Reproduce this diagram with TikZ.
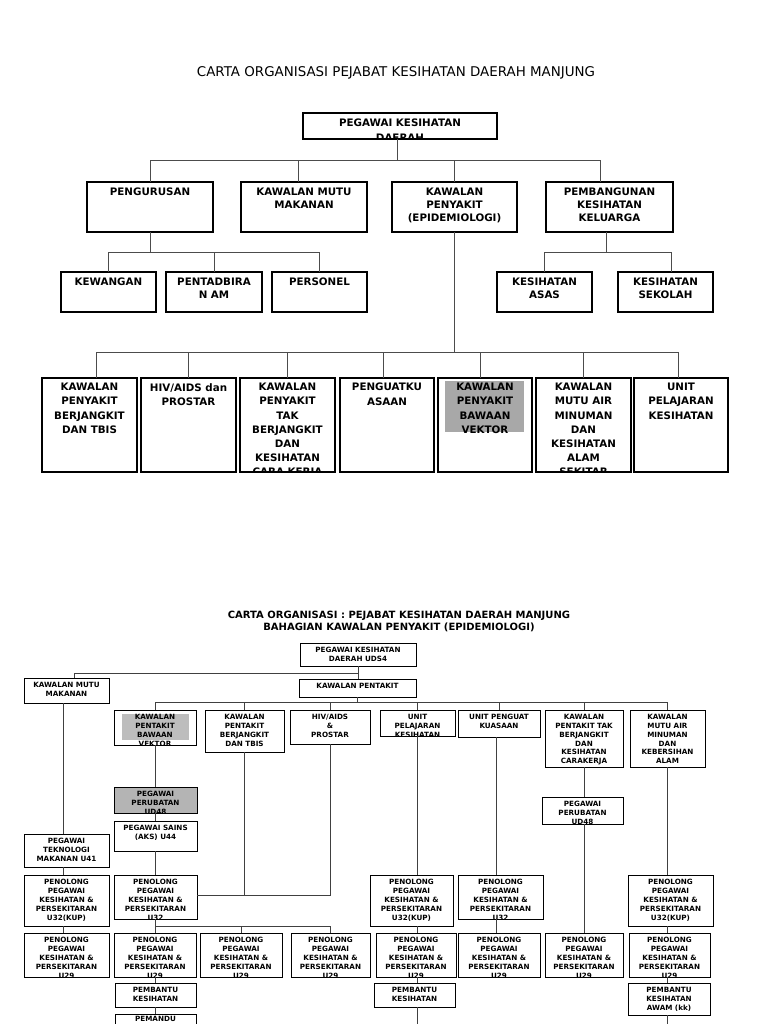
\documentclass[tikz,border=0pt]{standalone}
\usepackage{fontspec}
\setmainfont{DejaVu Sans}
\definecolor{grayA}{HTML}{A8A8A8}
\definecolor{grayB}{HTML}{BDBDBD}
\definecolor{grayC}{HTML}{B4B4B4}
\newcommand\OB[8]{%
  \node[#6,minimum width={#4-#2},minimum height={#5-#3}] (#1) at ({(#2+#4)/2},{(#3+#5)/2}) {};
  \begin{scope}
    \clip ([shift={(0.6pt,0.6pt)}]#1.south west) rectangle ([shift={(-0.6pt,-0.6pt)}]#1.north east);
    \node[#7] (#1-t) at (#1.north) {#8};
  \end{scope}
}
\begin{document}
\begin{tikzpicture}[x=1pt,y=-1pt,
  topbox/.style={draw=black, line width=1.2pt, inner sep=0pt, outer sep=0pt},
  toptext/.style={anchor=north, yshift=-6pt, align=center, inner sep=0pt, font=\bfseries\fontsize{10.3}{12.8}\selectfont},
  toptextA/.style={toptext, font=\bfseries\fontsize{10.3}{15}\selectfont},
  toptextB/.style={toptext, yshift=1pt, font=\bfseries\fontsize{10.3}{14.2}\selectfont},
  botbox/.style={draw=black, line width=0.9pt, inner sep=0pt, outer sep=0pt},
  bottext/.style={anchor=north, yshift=-4.3pt, align=center, inner sep=0pt, font=\bfseries\fontsize{7.2}{8.8}\selectfont},
  topline/.style={draw=black!70, line width=1pt},
  botline/.style={draw=black!75, line width=0.9pt},
]
\fill[white] (0,0) rectangle (768,1024);
\useasboundingbox (0,0) rectangle (768,1024);

% ================= TOP CHART =================
\node[font=\fontsize{13.4}{16}\selectfont, inner sep=0pt] (title1) at (396,73) {CARTA ORGANISASI PEJABAT KESIHATAN DAERAH MANJUNG};

\OB{pkd}{303}{113}{497}{139}{topbox}{toptextA}{PEGAWAI KESIHATAN\\DAERAH}

\OB{peng}{87}{182}{213}{232}{topbox}{toptext}{PENGURUSAN}
\OB{kmm}{241}{182}{367}{232}{topbox}{toptext}{KAWALAN MUTU\\MAKANAN}
\OB{kpe}{392}{182}{517}{232}{topbox}{toptext}{KAWALAN\\PENYAKIT\\(EPIDEMIOLOGI)}
\OB{pkk}{546}{182}{673}{232}{topbox}{toptext}{PEMBANGUNAN\\KESIHATAN\\KELUARGA}

\OB{kew}{61}{272}{156}{312}{topbox}{toptext}{KEWANGAN}
\OB{pent}{166}{272}{262}{312}{topbox}{toptext}{PENTADBIRA\\N AM}
\OB{pers}{272}{272}{367}{312}{topbox}{toptext}{PERSONEL}
\OB{ksa}{497}{272}{592}{312}{topbox}{toptext}{KESIHATAN\\ASAS}
\OB{kss}{618}{272}{713}{312}{topbox}{toptext}{KESIHATAN\\SEKOLAH}

\fill[grayA] (445,381) rectangle (524,432);
\OB{r4a}{42}{378}{137}{472}{topbox}{toptextB}{KAWALAN\\PENYAKIT\\BERJANGKIT\\DAN TBIS}
\OB{r4b}{141}{378}{236}{472}{topbox}{toptextB}{HIV/AIDS dan\\PROSTAR}
\OB{r4c}{240}{378}{335}{472}{topbox}{toptextB}{KAWALAN\\PENYAKIT\\TAK\\BERJANGKIT\\DAN\\KESIHATAN\\CARA KERJA}
\OB{r4d}{340}{378}{434}{472}{topbox}{toptextB}{PENGUATKU\\ASAAN}
\OB{r4e}{438}{378}{532}{472}{topbox}{toptextB}{KAWALAN\\PENYAKIT\\BAWAAN\\VEKTOR}
\OB{r4f}{536}{378}{631}{472}{topbox}{toptextB}{KAWALAN\\MUTU AIR\\MINUMAN\\DAN\\KESIHATAN\\ALAM\\SEKITAR}
\OB{r4g}{634}{378}{728}{472}{topbox}{toptextB}{UNIT\\PELAJARAN\\KESIHATAN}

% top connectors
\coordinate (bus1) at (0,161);
\coordinate (bus2) at (0,252);
\coordinate (bus4) at (0,352);
\draw[topline] ([xshift=-3pt]pkd.south) -- ([xshift=-3pt]pkd.south |- bus1);
\draw[topline] (peng.north) -- (peng.north |- bus1) -- ([xshift=-9pt]pkk.north |- bus1) -- ([xshift=-9pt]pkk.north);
\draw[topline] ([xshift=-6pt]kmm.north) -- ([xshift=-6pt]kmm.north |- bus1);
\draw[topline] (kpe.north) -- (kpe.north |- bus1);

\draw[topline] (peng.south) -- (peng.south |- bus2);
\draw[topline] (kew.north) -- (kew.north |- bus2) -- (pers.north |- bus2) -- (pers.north);
\draw[topline] (pent.north) -- (pent.north |- bus2);

\draw[topline] ([xshift=-3pt]pkk.south) -- ([xshift=-3pt]pkk.south |- bus2);
\draw[topline] (ksa.north) -- (ksa.north |- bus2) -- ([xshift=6pt]kss.north |- bus2) -- ([xshift=6pt]kss.north);

\draw[topline] (kpe.south) -- (kpe.south |- bus4);
\draw[topline] ([xshift=7pt]r4a.north) -- ([xshift=7pt]r4a.north |- bus4) -- ([xshift=-3pt]r4g.north |- bus4) -- ([xshift=-3pt]r4g.north);
\draw[topline] (r4b.north) -- (r4b.north |- bus4);
\draw[topline] (r4c.north) -- (r4c.north |- bus4);
\draw[topline] ([xshift=-4pt]r4d.north) -- ([xshift=-4pt]r4d.north |- bus4);
\draw[topline] ([xshift=-5pt]r4e.north) -- ([xshift=-5pt]r4e.north |- bus4);
\draw[topline] (r4f.north) -- (r4f.north |- bus4);

% ================= BOTTOM CHART =================
\node[font=\bfseries\fontsize{10}{12.8}\selectfont, align=center, inner sep=0pt] (title2) at (399,621.5) {CARTA ORGANISASI : PEJABAT KESIHATAN DAERAH MANJUNG\\BAHAGIAN KAWALAN PENYAKIT (EPIDEMIOLOGI)};

\OB{b0}{300}{643}{416}{666}{botbox}{bottext}{PEGAWAI KESIHATAN\\DAERAH UDS4}
\OB{bkm}{24}{678}{109}{703}{botbox}{bottext}{KAWALAN MUTU\\MAKANAN}
\OB{bkp}{299}{679}{416}{697}{botbox}{bottext}{KAWALAN PENTAKIT}

\fill[grayB] (122,714) rectangle (189,740);
\OB{a1}{114}{710}{196}{745}{botbox}{bottext}{KAWALAN\\PENTAKIT\\BAWAAN\\VEKTOR}
\OB{a2}{205}{710}{284}{752}{botbox}{bottext}{KAWALAN\\PENTAKIT\\BERJANGKIT\\DAN TBIS}
\OB{a3}{290}{710}{370}{744}{botbox}{bottext}{HIV/AIDS\\\&\\PROSTAR}
\OB{a4}{380}{710}{455}{736}{botbox}{bottext}{UNIT\\PELAJARAN\\KESIHATAN}
\OB{a5}{458}{710}{540}{737}{botbox}{bottext}{UNIT PENGUAT\\KUASAAN}
\OB{a6}{545}{710}{623}{767}{botbox}{bottext}{KAWALAN\\PENTAKIT TAK\\BERJANGKIT\\DAN\\KESIHATAN\\CARAKERJA}
\OB{a7}{630}{710}{705}{767}{botbox}{bottext}{KAWALAN\\MUTU AIR\\MINUMAN\\DAN\\KEBERSIHAN\\ALAM}

% column 1
\OB{c1a}{24}{834}{109}{867}{botbox}{bottext}{PEGAWAI\\TEKNOLOGI\\MAKANAN U41}
\OB{c1b}{24}{875}{109}{926}{botbox}{bottext}{PENOLONG\\PEGAWAI\\KESIHATAN \&\\PERSEKITARAN\\U32(KUP)}
\OB{c1c}{24}{933}{109}{977}{botbox}{bottext}{PENOLONG\\PEGAWAI\\KESIHATAN \&\\PERSEKITARAN\\U29}

% column 2
\OB{c2a}{114}{787}{197}{813}{botbox,fill=grayC}{bottext}{PEGAWAI\\PERUBATAN\\UD48}
\OB{c2b}{114}{821}{197}{851}{botbox}{bottext}{PEGAWAI SAINS\\(AKS) U44}
\OB{c2c}{114}{875}{197}{919}{botbox}{bottext}{PENOLONG\\PEGAWAI\\KESIHATAN \&\\PERSEKITARAN\\U32}
\OB{c2d}{114}{933}{196}{977}{botbox}{bottext}{PENOLONG\\PEGAWAI\\KESIHATAN \&\\PERSEKITARAN\\U29}
\OB{c2e}{115}{983}{196}{1007}{botbox}{bottext}{PEMBANTU\\KESIHATAN}
\OB{c2f}{115}{1014}{196}{1040}{botbox}{bottext,yshift=1.8pt}{PEMANDU}

\OB{c3d}{200}{933}{282}{977}{botbox}{bottext}{PENOLONG\\PEGAWAI\\KESIHATAN \&\\PERSEKITARAN\\U29}
\OB{c4d}{291}{933}{370}{977}{botbox}{bottext}{PENOLONG\\PEGAWAI\\KESIHATAN \&\\PERSEKITARAN\\U29}

% column under UNIT PELAJARAN
\OB{c5c}{370}{875}{453}{926}{botbox}{bottext}{PENOLONG\\PEGAWAI\\KESIHATAN \&\\PERSEKITARAN\\U32(KUP)}
\OB{c5d}{376}{933}{456}{977}{botbox}{bottext}{PENOLONG\\PEGAWAI\\KESIHATAN \&\\PERSEKITARAN\\U29}
\OB{c5e}{374}{983}{455}{1007}{botbox}{bottext}{PEMBANTU\\KESIHATAN}

% column under UNIT PENGUAT KUASAAN
\OB{c6c}{458}{875}{543}{919}{botbox}{bottext}{PENOLONG\\PEGAWAI\\KESIHATAN \&\\PERSEKITARAN\\U32}
\OB{c6d}{458}{933}{540}{977}{botbox}{bottext}{PENOLONG\\PEGAWAI\\KESIHATAN \&\\PERSEKITARAN\\U29}

% column under TAK BERJANGKIT
\OB{c7a}{542}{797}{623}{824}{botbox}{bottext}{PEGAWAI\\PERUBATAN\\UD48}
\OB{c7d}{545}{933}{623}{977}{botbox}{bottext}{PENOLONG\\PEGAWAI\\KESIHATAN \&\\PERSEKITARAN\\U29}

% column under MUTU AIR
\OB{c8c}{628}{875}{713}{926}{botbox}{bottext}{PENOLONG\\PEGAWAI\\KESIHATAN \&\\PERSEKITARAN\\U32(KUP)}
\OB{c8d}{629}{933}{710}{977}{botbox}{bottext}{PENOLONG\\PEGAWAI\\KESIHATAN \&\\PERSEKITARAN\\U29}
\OB{c8e}{628}{983}{710}{1015}{botbox}{bottext}{PEMBANTU\\KESIHATAN\\AWAM (kk)}

% bottom connectors
\coordinate (bb1) at (0,673);
\coordinate (bb2) at (0,702);
\coordinate (bb3) at (0,895);
\coordinate (bb4) at (0,926);
\coordinate (pagebot) at (0,1024);

\draw[botline] (b0.south) -- (b0.south |- bkp.north);
\draw[botline] ([xshift=8pt]bkm.north) -- ([xshift=8pt]bkm.north |- bb1) -- (b0.south |- bb1);
\draw[botline] (bkp.south) -- (bkp.south |- bb2);
\draw[botline] (a1.north) -- (a1.north |- bb2) -- (a7.north |- bb2) -- (a7.north);
\draw[botline] (a2.north) -- (a2.north |- bb2);
\draw[botline] (a3.north) -- (a3.north |- bb2);
\draw[botline] (a4.north) -- (a4.north |- bb2);
\draw[botline] (a5.north) -- (a5.north |- bb2);
\draw[botline] (a6.north) -- (a6.north |- bb2);

\draw[botline] ([xshift=-3pt]bkm.south) -- ([xshift=-3pt]bkm.south |- c1a.north);
\draw[botline] ([xshift=-3pt]c1a.south) -- ([xshift=-3pt]c1a.south |- c1b.north);
\draw[botline] ([xshift=-3pt]c1b.south) -- ([xshift=-3pt]c1b.south |- c1c.north);

\draw[botline] (a1.south) -- (a1.south |- c2a.north);
\draw[botline] (a1.south |- c2a.south) -- (a1.south |- c2b.north);
\draw[botline] (a1.south |- c2b.south) -- (a1.south |- c2c.north);
\draw[botline] (a2.south) -- (a2.south |- bb3);
\draw[botline] (a3.south) -- (a3.south |- bb3) -- (c2c.east |- bb3);
\draw[botline] (a1.south |- c2c.south) -- (a1.south |- bb4);
\draw[botline] (a1.south |- c2d.north) -- (a1.south |- bb4) -- (c4d.north |- bb4) -- (c4d.north);
\draw[botline] (c3d.north) -- (c3d.north |- bb4);
\draw[botline] (a1.south |- c2d.south) -- (a1.south |- c2e.north);
\draw[botline] (a1.south |- c2e.south) -- (a1.south |- c2f.north);

\draw[botline] (a4.south) -- (a4.south |- c5c.north);
\draw[botline] (a4.south |- c5c.south) -- (a4.south |- c5d.north);
\draw[botline] (a4.south |- c5d.south) -- (a4.south |- c5e.north);
\draw[botline] (a4.south |- c5e.south) -- (a4.south |- pagebot);

\draw[botline] ([xshift=-3pt]a5.south) -- ([xshift=-3pt]a5.south |- c6c.north);
\draw[botline] ([xshift=-3pt]a5.south |- c6c.south) -- ([xshift=-3pt]a5.south |- c6d.north);

\draw[botline] (a6.south) -- (a6.south |- c7a.north);
\draw[botline] (a6.south |- c7a.south) -- (a6.south |- c7d.north);

\draw[botline] (a7.south) -- (a7.south |- c8c.north);
\draw[botline] (a7.south |- c8c.south) -- (a7.south |- c8d.north);
\draw[botline] (a7.south |- c8d.south) -- (a7.south |- c8e.north);
\draw[botline] (a7.south |- c8e.south) -- (a7.south |- pagebot);
\end{tikzpicture}
\end{document}
